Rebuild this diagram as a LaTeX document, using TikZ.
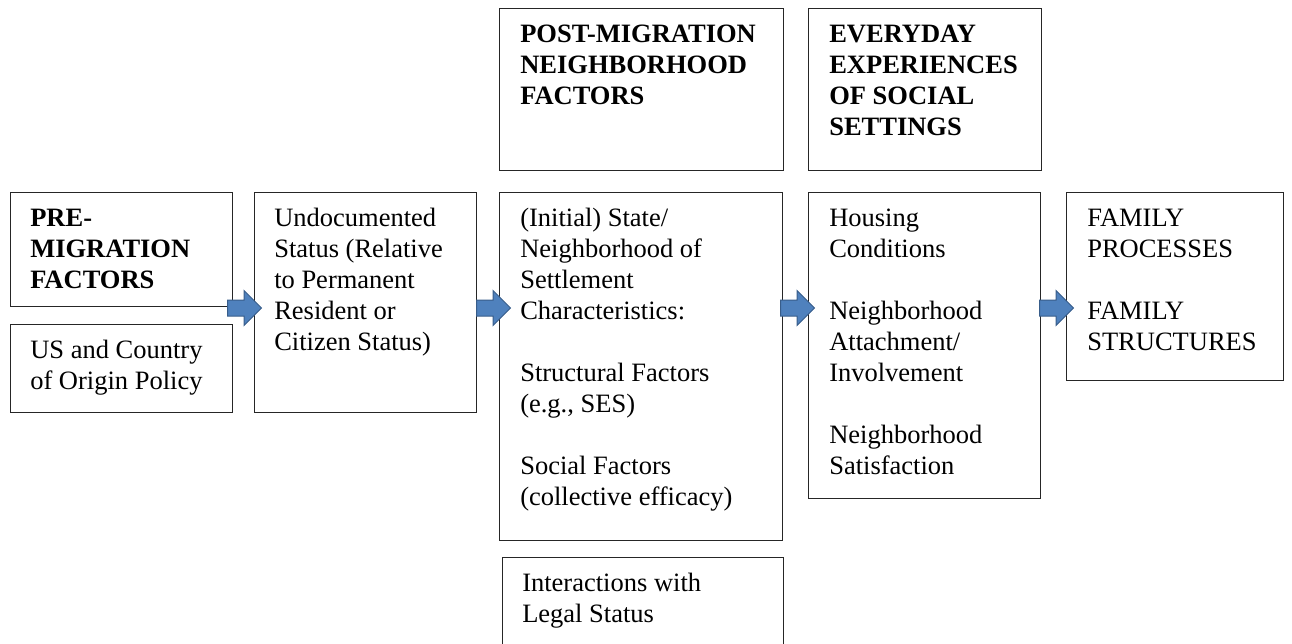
\documentclass[tikz,border=0pt]{standalone}
\usepackage{fontspec}
\setmainfont{Liberation Serif}
\usetikzlibrary{shapes.arrows}
\newlength\px
\setlength\px{0.75pt}
\definecolor{arrowfill}{RGB}{79,129,189}
\definecolor{arrowline}{RGB}{56,93,138}

\begin{document}
\begin{tikzpicture}[
		x=0.75pt, y=-0.75pt,
		box/.style={
				draw=black!85,
				line width=1.3\px,
				anchor=north west,
				inner sep=0pt
			},
		txt/.style={
				anchor=north west,
				inner sep=0pt,
				align=left,
				font=\fontsize{19.875}{23.25}\selectfont
			},
		blockarrow/.style={
				single arrow,
				draw=arrowline,
				fill=arrowfill,
				line width=1\px,
				inner xsep=0pt,
				inner ysep=7.5\px,
				minimum height=34\px,
				minimum width=34\px,
				single arrow head extend=9.5\px,
				anchor=tail
			}
	]
	\useasboundingbox (0,0) rectangle (1292,643);

	% boxes
	\node[box, minimum width=222\px, minimum height=114\px] (pre) at (10,192) {};
	\node[box, minimum width=222\px, minimum height=88\px] (policy) at (10,324) {};
	\node[box, minimum width=222\px, minimum height=220\px] (undoc) at (254,192) {};
	\node[box, minimum width=284\px, minimum height=162\px] (post) at (499,8) {};
	\node[box, minimum width=283\px, minimum height=348\px] (state) at (499,192) {};
	\node[box, minimum width=281\px, minimum height=100\px] (legal) at (502,557) {};
	\node[box, minimum width=233\px, minimum height=162\px] (everyday) at (808,8) {};
	\node[box, minimum width=232\px, minimum height=306\px] (housing) at (808,192) {};
	\node[box, minimum width=217\px, minimum height=188\px] (family) at (1066,192) {};

	% texts
	\node[txt] (pretxt) at ([shift={(20,13)}]pre.north west)
	{\strut\textbf{PRE-}\\\textbf{MIGRATION}\\\textbf{FACTORS}};
	\node[txt] (policytxt) at ([shift={(20,13)}]policy.north west)
	{\strut US and Country\\of Origin Policy};
	\node[txt] (undoctxt) at ([shift={(20,13)}]undoc.north west)
	{\strut Undocumented\\Status (Relative\\to Permanent\\Resident or\\Citizen Status)};
	\node[txt] (posttxt) at ([shift={(21,13)}]post.north west)
	{\strut\textbf{POST-MIGRATION}\\\textbf{NEIGHBORHOOD}\\\textbf{FACTORS}};
	\node[txt] (statetxt) at ([shift={(21,13)}]state.north west)
	{\strut(Initial) State/\\Neighborhood of\\Settlement\\Characteristics:\\[23.25pt]
		Structural Factors\\(e.g., SES)\\[23.25pt]
		Social Factors\\(collective efficacy)};
	\node[txt] (legaltxt) at ([shift={(20,13)}]legal.north west)
	{\strut Interactions with\\Legal Status};
	\node[txt] (everydaytxt) at ([shift={(21,13)}]everyday.north west)
	{\strut\textbf{EVERYDAY}\\\textbf{EXPERIENCES}\\\textbf{OF SOCIAL}\\\textbf{SETTINGS}};
	\node[txt] (housingtxt) at ([shift={(21,13)}]housing.north west)
	{\strut Housing\\Conditions\\[23.25pt]
		Neighborhood\\Attachment/\\Involvement\\[23.25pt]
		Neighborhood\\Satisfaction};
	\node[txt] (familytxt) at ([shift={(21,13)}]family.north west)
	{\strut FAMILY\\PROCESSES\\[23.25pt]
		FAMILY\\STRUCTURES};

	% block arrows
	\node[blockarrow] (a1) at (227,308) {};
	\node[blockarrow] (a2) at (476,308) {};
	\node[blockarrow] (a3) at (780,308) {};
	\node[blockarrow] (a4) at (1039,308) {};
\end{tikzpicture}
\end{document}
